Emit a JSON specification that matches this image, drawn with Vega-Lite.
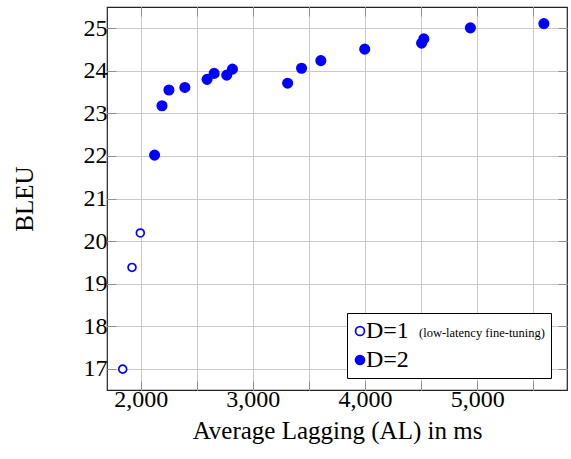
{
  "$schema": "https://vega.github.io/schema/vega-lite/v6.json",
  "width": 460,
  "height": 383,
  "autosize": {"type": "none"},
  "padding": {"left": 107, "top": 7, "right": 4, "bottom": 69},
  "config": {
    "view": {"stroke": "#222222", "strokeWidth": 1.2},
    "font": "Liberation Serif",
    "axis": {
      "labelFont": "Liberation Serif",
      "titleFont": "Liberation Serif",
      "labelColor": "black",
      "titleColor": "black",
      "titleFontWeight": "normal",
      "labelFontSize": 24,
      "titleFontSize": 25,
      "domain": false,
      "gridColor": "#c8c8c8",
      "gridWidth": 1,
      "gridOpacity": 1,
      "tickColor": "#909090",
      "tickWidth": 1,
      "tickSize": -9
    }
  },
  "data": {
    "values": [
      {"AL": 1840, "BLEU": 16.99, "D": "D=1"},
      {"AL": 1923, "BLEU": 19.38, "D": "D=1"},
      {"AL": 1997, "BLEU": 20.19, "D": "D=1"},
      {"AL": 2124, "BLEU": 22.02, "D": "D=2"},
      {"AL": 2190, "BLEU": 23.18, "D": "D=2"},
      {"AL": 2252, "BLEU": 23.55, "D": "D=2"},
      {"AL": 2394, "BLEU": 23.61, "D": "D=2"},
      {"AL": 2592, "BLEU": 23.80, "D": "D=2"},
      {"AL": 2655, "BLEU": 23.94, "D": "D=2"},
      {"AL": 2767, "BLEU": 23.90, "D": "D=2"},
      {"AL": 2818, "BLEU": 24.04, "D": "D=2"},
      {"AL": 3310, "BLEU": 23.71, "D": "D=2"},
      {"AL": 3434, "BLEU": 24.06, "D": "D=2"},
      {"AL": 3606, "BLEU": 24.24, "D": "D=2"},
      {"AL": 3997, "BLEU": 24.51, "D": "D=2"},
      {"AL": 4504, "BLEU": 24.65, "D": "D=2"},
      {"AL": 4524, "BLEU": 24.75, "D": "D=2"},
      {"AL": 4939, "BLEU": 25.01, "D": "D=2"},
      {"AL": 5594, "BLEU": 25.11, "D": "D=2"}
    ]
  },
  "layer": [
    {
      "transform": [{"filter": "datum.D == 'D=1'"}],
      "mark": {"type": "point", "shape": "circle", "filled": true, "stroke": "#0000ff", "strokeWidth": 1.7, "opacity": 1, "size": 62},
      "encoding": {
        "x": {
          "field": "AL", "type": "quantitative",
          "scale": {"domain": [1700, 5800], "nice": false, "zero": false},
          "axis": {
            "orient": "bottom",
            "title": "Average Lagging (AL) in ms",
            "values": [2000, 2500, 3000, 3500, 4000, 4500, 5000, 5500],
            "labelExpr": "datum.value % 1000 == 0 ? format(datum.value, ',') : ''",
            "labelPadding": 6,
            "titlePadding": 7,
            "grid": true
          }
        },
        "y": {
          "field": "BLEU", "type": "quantitative",
          "scale": {"domain": [16.5, 25.5], "nice": false, "zero": false},
          "axis": {
            "orient": "left",
            "title": "BLEU",
            "values": [17, 18, 19, 20, 21, 22, 23, 24, 25],
            "labelPadding": 9,
            "titlePadding": 46,
            "grid": true
          }
        },
        "fill": {
          "field": "D", "type": "nominal",
          "scale": {"domain": ["D=1", "D=2"], "range": ["white", "#0000ff"]},
          "legend": {
            "orient": "none",
            "legendX": 240,
            "legendY": 306,
            "direction": "vertical",
            "fillColor": "white",
            "strokeColor": "black",
            "padding": 6,
            "labelFont": "Liberation Serif",
            "labelFontSize": 24,
            "labelColor": "black",
            "labelOffset": -6,
            "rowPadding": 5,
            "symbolType": "circle",
            "symbolSize": 80,
            "symbolOffset": -5,
            "symbolStrokeColor": "#0000ff",
            "symbolStrokeWidth": 1.7,
            "title": "(low-latency fine-tuning)",
            "titleOrient": "right",
            "titleAnchor": "start",
            "titleBaseline": "line-top",
            "titleLineHeight": 28,
            "titleFont": "Liberation Serif",
            "titleFontSize": 12.5,
            "titleFontWeight": "normal",
            "titleColor": "black",
            "titlePadding": 10
          }
        }
      }
    },
    {
      "transform": [{"filter": "datum.D == 'D=2'"}],
      "mark": {"type": "point", "shape": "circle", "filled": true, "stroke": "#0000ff", "strokeWidth": 1.5, "opacity": 1, "size": 92},
      "encoding": {
        "x": {"field": "AL", "type": "quantitative", "axis": null},
        "y": {"field": "BLEU", "type": "quantitative", "axis": null},
        "fill": {"field": "D", "type": "nominal"}
      }
    },
    {
      "mark": {"type": "point", "opacity": 0},
      "encoding": {
        "x": {
          "field": "AL", "type": "quantitative",
          "axis": {
            "orient": "top", "title": null, "labels": false, "grid": false,
            "values": [2000, 2500, 3000, 3500, 4000, 4500, 5000, 5500]
          }
        },
        "y": {
          "field": "BLEU", "type": "quantitative",
          "axis": {
            "orient": "right", "title": null, "labels": false, "grid": false,
            "values": [17, 18, 19, 20, 21, 22, 23, 24, 25]
          }
        }
      }
    }
  ],
  "resolve": {"axis": {"x": "independent", "y": "independent"}}
}
